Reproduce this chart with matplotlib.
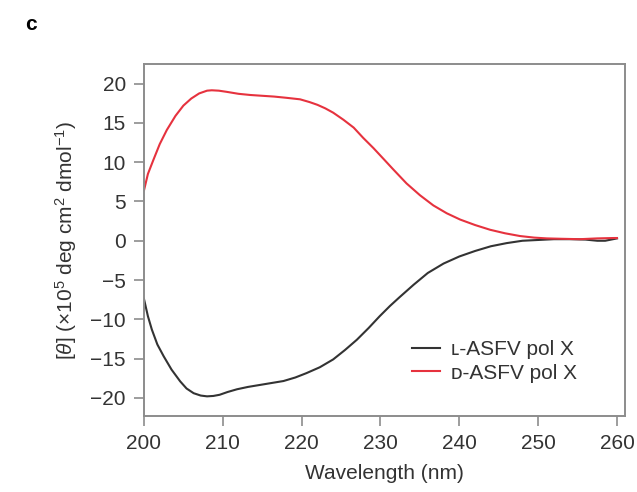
import numpy as np
import matplotlib
matplotlib.use('Agg')
import matplotlib.pyplot as plt

plt.rcParams['font.family'] = ['Liberation Sans', 'DejaVu Sans']
plt.rcParams['mathtext.fontset'] = 'custom'
plt.rcParams['mathtext.rm'] = 'Liberation Sans'
plt.rcParams['mathtext.it'] = 'Liberation Sans:italic'

# CD spectra
wl_l = [200, 200.5, 201, 201.7, 202.5, 203.5, 204.6, 205.4, 206.3, 207.2, 208, 208.8,
        209.6, 210.6, 211.8, 213.2, 214.7, 216.2, 217.7, 219.2, 220.6, 222.3, 224,
        225.5, 227, 228.5, 229.9, 231.2, 232.4, 234.2, 236, 238, 240, 242, 244, 246,
        248, 250, 252, 254, 256, 257.5, 258.5, 260]
theta_l = [-7.4, -9.6, -11.3, -13.2, -14.7, -16.4, -17.9, -18.8, -19.4, -19.7, -19.8, -19.75,
           -19.6, -19.25, -18.9, -18.6, -18.35, -18.1, -17.85, -17.4, -16.85, -16.1, -15.1,
           -13.9, -12.6, -11.1, -9.6, -8.3, -7.2, -5.6, -4.1, -2.9, -2.0, -1.3, -0.7, -0.3,
           0.0, 0.1, 0.2, 0.2, 0.15, 0.0, 0.0, 0.3]

wl_d = [200, 200.5, 201.2, 202, 202.9, 204, 205, 206, 207, 208, 208.6, 209.5, 210.5,
        212, 213.5, 215, 216.5, 218, 219.8, 221, 222, 223, 224, 225.3, 226.6, 227.8,
        229.1, 230.4, 231.6, 233.3, 235, 236.7, 238.4, 240.1, 242, 243.9, 245.8, 247.7,
        249.5, 251.1, 253, 255.3, 257.5, 259.6, 260]
theta_d = [6.4, 8.5, 10.3, 12.3, 14.1, 15.9, 17.2, 18.1, 18.75, 19.1, 19.15, 19.1, 18.95,
           18.7, 18.55, 18.45, 18.35, 18.2, 18.0, 17.65, 17.3, 16.85, 16.3, 15.4, 14.4, 13.1,
           11.8, 10.4, 9.1, 7.3, 5.8, 4.5, 3.5, 2.7, 2.0, 1.4, 0.95, 0.6,
           0.4, 0.3, 0.25, 0.2, 0.3, 0.35, 0.35]

labels = ['\u029f-ASFV pol X', '\u1d05-ASFV pol X']
colors = ['#333333', '#e6323e']

fig = plt.figure(figsize=(6.37, 4.92), dpi=100)
ax = fig.add_axes([0.226, 0.1545, 0.755, 0.7155])

ax.plot(wl_l, theta_l, color=colors[0], lw=1.5, label=labels[0])
ax.plot(wl_d, theta_d, color=colors[1], lw=1.5, label=labels[1])

ax.set_xlim(200, 261)
ax.set_ylim(-22.3, 22.5)
ax.set_xticks(np.arange(200, 261, 10))
ax.set_yticks(np.arange(-20, 21, 5))
ax.set_yticklabels([str(v).replace('-', '\u2212') for v in range(-20, 21, 5)])

for s in ax.spines.values():
    s.set_color('#8c8c8c')
    s.set_linewidth(1.4)
ax.tick_params(length=7, width=1.2, color='#8c8c8c', labelsize=15,
               labelcolor='#333333', pad=6)

ax.set_xlabel('Wavelength (nm)', fontsize=15, color='#333333', labelpad=8)
ax.set_ylabel(r'[$\theta$] (×10$^5$ deg cm$^2$ dmol$^{-1}$)', fontsize=15,
              color='#333333', labelpad=8)

leg = ax.legend(loc='center left', bbox_to_anchor=(0.557, 0.155), frameon=False,
                fontsize=15, borderpad=0, borderaxespad=0, handlelength=1.35,
                handletextpad=0.55, labelspacing=0.2)
for t in leg.get_texts():
    t.set_color('#333333')

fig.text(0.04, 0.97, 'c', fontsize=15, fontweight='bold', va='top')

fig.savefig('out.png', dpi=100)
